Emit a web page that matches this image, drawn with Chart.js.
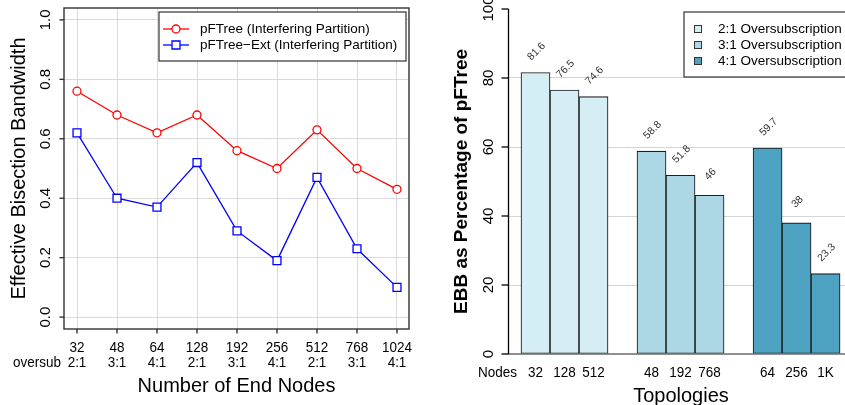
<!DOCTYPE html>
<html>
<head>
<meta charset="utf-8">
<script src="https://cdn.jsdelivr.net/npm/chart.js@4"></script>
<style>
  html, body { margin: 0; padding: 0; width: 845px; height: 405px; overflow: hidden; background: #fff; }
  canvas { position: absolute; top: 0; }
  #ebbLines { left: 0; }
  #ebbBars { left: 420px; }
</style>
</head>
<body>
<canvas id="ebbLines" width="420" height="405"></canvas>
<canvas id="ebbBars" width="440" height="405"></canvas>
<script>
// ---- left panel: effective bisection bandwidth per topology ----
const endNodes = ["32", "48", "64", "128", "192", "256", "512", "768", "1024"];
const oversubRatios = ["2:1", "3:1", "4:1", "2:1", "3:1", "4:1", "2:1", "3:1", "4:1"];
const pftreeEBB = [0.76, 0.68, 0.62, 0.68, 0.56, 0.50, 0.63, 0.50, 0.43];
const pftreeExtEBB = [0.62, 0.40, 0.37, 0.52, 0.29, 0.19, 0.47, 0.23, 0.10];
const ebbTicks = [0, 0.2, 0.4, 0.6, 0.8, 1.0];

// ---- right panel: EBB of pFTree-Ext as a percentage of pFTree ----
const groupNames = ["2:1 Oversubscription", "3:1 Oversubscription", "4:1 Oversubscription"];
const groupNodes = [["32", "128", "512"], ["48", "192", "768"], ["64", "256", "1K"]];
const groupPercent = [[81.6, 76.5, 74.6], [58.8, 51.8, 46], [59.7, 38, 23.3]];
const groupColors = ["#d5eef6", "#acd7e4", "#4ea3c2"];
const percentTicks = [0, 20, 40, 60, 80, 100];

const FONT = '"Liberation Sans", Arial, Helvetica, sans-serif';

function drawText(ctx, s, x, y, o = {}) {
  ctx.save();
  ctx.translate(x, y);
  if (o.rot) ctx.rotate(o.rot);
  if (o.sx) ctx.scale(o.sx, 1);
  ctx.font = o.font || ('15px ' + FONT);
  ctx.fillStyle = o.color || '#000';
  ctx.textAlign = o.align || 'center';
  ctx.textBaseline = o.baseline || 'alphabetic';
  ctx.fillText(s, 0, 0);
  ctx.restore();
}
function seg(ctx, x1, y1, x2, y2) {
  ctx.beginPath(); ctx.moveTo(x1, y1); ctx.lineTo(x2, y2); ctx.stroke();
}

const lineFrame = {
  id: 'lineFrame',
  afterDraw(chart) {
    const { ctx, chartArea: a, scales: { x, y } } = chart;
    ctx.save();
    ctx.strokeStyle = '#333';
    ctx.lineWidth = 1.4;
    ctx.strokeRect(a.left, a.top, a.right - a.left, a.bottom - a.top);

    // y axis ticks and rotated labels
    ebbTicks.forEach(v => {
      const py = y.getPixelForValue(v);
      seg(ctx, a.left - 4.5, py, a.left, py);
      drawText(ctx, v.toFixed(1), 50, py, { rot: -Math.PI / 2, font: '15px ' + FONT });
    });
    // x axis ticks and two-line labels
    endNodes.forEach((n, i) => {
      const px = x.getPixelForValue(i);
      seg(ctx, px, a.bottom, px, a.bottom + 4.5);
      drawText(ctx, n, px, 352, { sx: 0.87, font: '15.5px ' + FONT });
      drawText(ctx, oversubRatios[i], px, 367, { sx: 0.87, font: '15.5px ' + FONT });
    });
    drawText(ctx, 'oversub', 61, 367, { sx: 0.87, align: 'right', font: '15.5px ' + FONT });

    // axis titles
    drawText(ctx, 'Number of End Nodes', (a.left + a.right) / 2, 392, { font: '20px ' + FONT });
    drawText(ctx, 'Effective Bisection Bandwidth', 24.5, (a.top + a.bottom) / 2,
      { rot: -Math.PI / 2, font: '20px ' + FONT });

    // legend
    const lx = 159, ly = 12, lw = 247, lh = 49;
    ctx.fillStyle = '#fff';
    ctx.fillRect(lx, ly, lw, lh);
    ctx.strokeStyle = '#333';
    ctx.lineWidth = 1.2;
    ctx.strokeRect(lx, ly, lw, lh);
    chart.data.datasets.forEach((ds, i) => {
      const ry = 29 + i * 16;
      ctx.strokeStyle = ds.borderColor;
      ctx.lineWidth = 1.3;
      seg(ctx, 163, ry, 189, ry);
      ctx.fillStyle = '#fff';
      ctx.beginPath();
      if (ds.pointStyle === 'rect') ctx.rect(172, ry - 4, 8, 8);
      else ctx.arc(176, ry, 4, 0, Math.PI * 2);
      ctx.fill(); ctx.stroke();
      drawText(ctx, ds.label, 200, ry, { align: 'left', baseline: 'middle', font: '13.5px ' + FONT });
    });
    ctx.restore();
  }
};

new Chart(document.getElementById('ebbLines'), {
  type: 'line',
  data: {
    datasets: [
      {
        label: 'pFTree (Interfering Partition)',
        data: pftreeEBB.map((v, i) => ({ x: i, y: v })),
        borderColor: '#ff0000', borderWidth: 1.3,
        pointStyle: 'circle', pointRadius: 4, pointBorderWidth: 1.3,
        pointBackgroundColor: '#fff', pointBorderColor: '#ff0000'
      },
      {
        label: 'pFTree\u2212Ext (Interfering Partition)',
        data: pftreeExtEBB.map((v, i) => ({ x: i, y: v })),
        borderColor: '#0000ff', borderWidth: 1.3,
        pointStyle: 'rect', pointRadius: 5.6, pointBorderWidth: 1.3,
        pointBackgroundColor: '#fff', pointBorderColor: '#0000ff'
      }
    ]
  },
  options: {
    responsive: false, animation: false, devicePixelRatio: 1,
    layout: { padding: { left: 0, right: 11, top: 8, bottom: 0 }, autoPadding: false },
    plugins: { legend: { display: false }, tooltip: { enabled: false } },
    elements: { line: { tension: 0 } },
    scales: {
      x: {
        type: 'linear', min: -0.325, max: 8.3,
        afterBuildTicks: s => { s.ticks = endNodes.map((_, i) => ({ value: i })); },
        afterFit: s => { s.height = 76; },
        ticks: { display: false },
        grid: { color: '#d9d9d9', lineWidth: 1, drawTicks: false },
        border: { display: false }
      },
      y: {
        type: 'linear', min: -0.04, max: 1.04,
        afterBuildTicks: s => { s.ticks = ebbTicks.map(v => ({ value: v })); },
        afterFit: s => { s.width = 64; },
        ticks: { display: false },
        grid: { color: '#d9d9d9', lineWidth: 1, drawTicks: false },
        border: { display: false }
      }
    }
  },
  plugins: [lineFrame]
});

// bar slots: three bars per group, one empty slot between groups
const slotOf = (g, i) => g * 4 + i;

const barFrame = {
  id: 'barFrame',
  afterDatasetsDraw(chart) {
    const { ctx, chartArea: a, scales: { x, y } } = chart;
    ctx.save();
    // zero line
    ctx.strokeStyle = '#6a6a6a';
    ctx.lineWidth = 1.5;
    seg(ctx, a.left, y.getPixelForValue(0), a.right, y.getPixelForValue(0));
    // y axis
    ctx.strokeStyle = '#000';
    ctx.lineWidth = 1.3;
    seg(ctx, a.left + 0.5, y.getPixelForValue(100), a.left + 0.5, y.getPixelForValue(0));
    percentTicks.forEach(v => {
      const py = y.getPixelForValue(v);
      seg(ctx, a.left - 6.5, py, a.left + 0.5, py);
      drawText(ctx, String(v), 73, py, { rot: -Math.PI / 2, font: '15px ' + FONT });
    });
    // value labels and node labels
    groupPercent.forEach((vals, g) => {
      vals.forEach((v, i) => {
        const px = x.getPixelForValue(slotOf(g, i));
        const py = y.getPixelForValue(v);
        drawText(ctx, String(v), px + 1, py - 21,
          { rot: -Math.PI / 4, baseline: 'middle', color: '#333', font: '10.5px ' + FONT });
        drawText(ctx, groupNodes[g][i], px, 377, { sx: 0.87, font: '15.5px ' + FONT });
      });
    });
    drawText(ctx, 'Nodes', 97, 377, { sx: 0.87, align: 'right', font: '15.5px ' + FONT });

    // axis titles
    drawText(ctx, 'Topologies', (a.left + a.right) / 2, 402, { font: '20px ' + FONT });
    drawText(ctx, 'EBB as Percentage of pFTree', 47, (a.top + a.bottom) / 2,
      { rot: -Math.PI / 2, font: 'bold 19px ' + FONT });

    // legend
    const lx = 264, ly = 12, lw = 200, lh = 65;
    ctx.fillStyle = '#fff';
    ctx.fillRect(lx, ly, lw, lh);
    ctx.strokeStyle = '#333';
    ctx.lineWidth = 1.2;
    ctx.strokeRect(lx, ly, lw, lh);
    chart.data.datasets.forEach((ds, i) => {
      const ry = 29 + i * 16;
      ctx.fillStyle = ds.backgroundColor;
      ctx.strokeStyle = '#333';
      ctx.lineWidth = 1;
      ctx.fillRect(274.5, ry - 3.5, 7, 7);
      ctx.strokeRect(274.5, ry - 3.5, 7, 7);
      drawText(ctx, ds.label, 298, ry, { align: 'left', baseline: 'middle', font: '13.5px ' + FONT });
    });
    ctx.restore();
  }
};

new Chart(document.getElementById('ebbBars'), {
  type: 'bar',
  data: {
    datasets: groupPercent.map((vals, g) => ({
      label: groupNames[g],
      data: vals.map((v, i) => ({ x: slotOf(g, i), y: v })),
      backgroundColor: groupColors[g],
      borderColor: '#1e1e1e',
      borderWidth: 1.1,
      borderSkipped: false,
      grouped: false,
      barPercentage: 1,
      categoryPercentage: 1
    }))
  },
  options: {
    responsive: false, animation: false, devicePixelRatio: 1,
    layout: { padding: { left: 0, right: 6, top: 9, bottom: 0 }, autoPadding: false },
    plugins: { legend: { display: false }, tooltip: { enabled: false } },
    scales: {
      x: {
        type: 'linear', min: -0.948, max: 10.98, offset: false,
        afterFit: s => { s.height = 51; },
        ticks: { display: false },
        grid: { display: false },
        border: { display: false }
      },
      y: {
        type: 'linear', min: 0, max: 100,
        afterBuildTicks: s => { s.ticks = percentTicks.map(v => ({ value: v })); },
        afterFit: s => { s.width = 88; },
        ticks: { display: false },
        grid: {
          color: c => (c.tick && c.tick.value > 0 && c.tick.value < 100) ? '#d6d6d6' : 'rgba(0,0,0,0)',
          lineWidth: 1, drawTicks: false
        },
        border: { display: false }
      }
    }
  },
  plugins: [barFrame]
});
</script>
</body>
</html>
